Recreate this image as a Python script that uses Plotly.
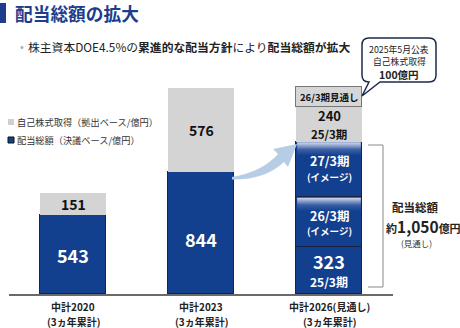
import plotly.graph_objects as go

# ---- data ----
positions = [0, 1, 2]
cat_line1 = ["中計2020", "中計2023", "中計2026(見通し)"]
cat_line2 = ["(3ヵ年累計)", "(3ヵ年累計)", "(3ヵ年累計)"]
dividends = [543, 844, 323]          # 配当総額（決議ベース/億円）
div_26_image = 345                   # 26/3期（イメージ）
div_27_image = 382                   # 27/3期（イメージ）
buyback = [151, 576, 240]            # 自己株式取得（拠出ベース/億円）
buyback_fcst_box = 140               # 26/3期見通し (display box height)

BLUE = "#12408f"
NAVY = "#1d3d8d"
GRAY = "#d4d4d4"
FONT = "Noto Sans CJK JP"

W, H = 460, 328
ML, MR, MT, MB = 9, 67, 80, 34
PW, PH = W - ML - MR, H - MT - MB
YMAX = 1476


def PX(x):
    return (x - ML) / PW


def PY(y):
    return (H - MB - y) / PH


fig = go.Figure()
bw = 0.51
fig.add_bar(x=positions, y=dividends, width=bw, marker=dict(color=BLUE, line=dict(color="#1a2346", width=1)))
fig.add_bar(x=[2], y=[div_26_image], width=bw, marker=dict(color=BLUE, line=dict(color="#1a2346", width=1)))
fig.add_bar(x=[2], y=[div_27_image], width=bw, marker=dict(color=BLUE, line=dict(color="#1a2346", width=1)))
fig.add_bar(x=positions, y=buyback, width=bw, marker=dict(color=GRAY, line=dict(color=GRAY, width=0)))
fig.add_bar(x=[2], y=[buyback_fcst_box], width=bw, marker=dict(color="#d6d6d6", line=dict(color="#777777", width=1)))

# gradient highlight at top of image segments
grad_h = 95
seg_bases = [dividends[2], dividends[2] + div_26_image]
seg_tops = [dividends[2] + div_26_image, dividends[2] + div_26_image + div_27_image]
for b, t in zip(seg_bases, seg_tops):
    lo = t - grad_h
    xi = 2 - bw / 2 + 0.006
    xa = 2 + bw / 2 - 0.006
    fig.add_scatter(x=[xi, xa, xa, xi, xi], y=[lo, lo, t - 4, t - 4, lo], mode="lines",
                    line=dict(width=0), fill="toself",
                    fillgradient=dict(type="vertical", start=lo, stop=t - 4,
                                      colorscale=[[0, BLUE], [0.45, "#3b5fa6"], [1, "#d4dbee"]]),
                    hoverinfo="skip")

ann = []


def A(text, x, y, size, color="#111", bold=False, xref="x", yref="y", xanchor="center", yanchor="middle"):
    ann.append(dict(text=(f"<b>{text}</b>" if bold else text), x=x, y=y, xref=xref, yref=yref,
                    showarrow=False, xanchor=xanchor, yanchor=yanchor, borderpad=0,
                    font=dict(family=FONT, size=size, color=color)))


# values in bars
A(str(buyback[0]), 0, dividends[0] + buyback[0] / 2, 14, bold=True)
A(str(dividends[0]), 0, dividends[0] / 2, 18, "white", True)
A(str(buyback[1]), 1, dividends[1] + buyback[1] / 2, 14, bold=True)
A(str(dividends[1]), 1, dividends[1] * 0.45, 18, "white", True)
mid = dividends[2] / 2
ann.append(dict(text="<b>323</b>", x=2, y=mid, yshift=10, xref="x", yref="y", showarrow=False,
                font=dict(family=FONT, size=18, color="white")))
ann.append(dict(text="<b>25/3期</b>", x=2, y=mid, yshift=-11, xref="x", yref="y", showarrow=False,
                font=dict(family=FONT, size=12, color="white")))
mid = dividends[2] + div_26_image / 2
ann.append(dict(text="<b>26/3期</b>", x=2, y=mid, yshift=7, xref="x", yref="y", showarrow=False,
                font=dict(family=FONT, size=12.5, color="white")))
ann.append(dict(text="<b>(イメージ)</b>", x=2, y=mid, yshift=-9, xref="x", yref="y", showarrow=False,
                font=dict(family=FONT, size=9.5, color="white")))
mid = dividends[2] + div_26_image + div_27_image / 2
ann.append(dict(text="<b>27/3期</b>", x=2, y=mid, yshift=9, xref="x", yref="y", showarrow=False,
                font=dict(family=FONT, size=12.5, color="white")))
ann.append(dict(text="<b>(イメージ)</b>", x=2, y=mid, yshift=-8, xref="x", yref="y", showarrow=False,
                font=dict(family=FONT, size=9.5, color="white")))
tot_div = dividends[2] + div_26_image + div_27_image
mid = tot_div + buyback[2] / 2
ann.append(dict(text="<b>240</b>", x=2, y=mid, yshift=9, xref="x", yref="y", showarrow=False,
                font=dict(family=FONT, size=13, color="#111")))
ann.append(dict(text="<b>25/3期</b>", x=2, y=mid, yshift=-10, xref="x", yref="y", showarrow=False,
                font=dict(family=FONT, size=11.5, color="#111")))
A("26/3期見通し", 2, tot_div + buyback[2] + buyback_fcst_box / 2, 9.5, bold=True)

# category labels
for p, l1, l2 in zip(positions, cat_line1, cat_line2):
    A(l1, p, PY(306.5), 10, "#222", True, yref="paper")
    A(l2, p, PY(321), 10, "#222", True, yref="paper")

# title & subtitle
A("配当総額の拡大", PX(14), PY(13), 17.7, NAVY, True, xref="paper", yref="paper", xanchor="left")
A("•", PX(19), PY(46), 11, "#9fb0cc", xref="paper", yref="paper", xanchor="left")
A("株主資本DOE4.5%の<b>累進的な配当方針</b>により<b>配当総額が拡大</b>", PX(27), PY(46), 11.8, "#222",
  xref="paper", yref="paper", xanchor="left")

# legend
A("自己株式取得（拠出ベース/億円）", PX(16), PY(122), 9.2, "#333", xref="paper", yref="paper", xanchor="left")
A("配当総額（決議ベース/億円）", PX(16), PY(140), 9.2, "#333", xref="paper", yref="paper", xanchor="left")

# right side note
A("配当総額", PX(415), PY(207), 11.5, "#222", True, xref="paper", yref="paper")
A("約<span style='font-size:15.5px'>1,050</span>億円", PX(423), PY(226), 11, "#222", True,
  xref="paper", yref="paper")
A("(見通し)", PX(416), PY(242.5), 8.5, "#333", xref="paper", yref="paper")

# callout text
A("2025年5月公表", PX(399), PY(49), 8.8, "#222", xref="paper", yref="paper")
A("自己株式取得", PX(399), PY(61), 8.8, "#222", xref="paper", yref="paper")
A("100億円", PX(399), PY(74), 10.5, "#222", True, xref="paper", yref="paper")


def path(pts_cmds):
    out = []
    for c in pts_cmds:
        if isinstance(c, str):
            out.append(c)
        else:
            out.append(f"{PX(c[0]):.5f},{PY(c[1]):.5f}")
    return " ".join(out)


shapes = []
# title bar
shapes.append(dict(type="rect", xref="paper", yref="paper", x0=PX(0), x1=PX(6), y0=PY(23), y1=PY(3),
                   fillcolor=NAVY, line=dict(width=0)))
# legend squares
shapes.append(dict(type="rect", xref="paper", yref="paper", x0=PX(8), x1=PX(14), y0=PY(125), y1=PY(119),
                   fillcolor="#cfcfcf", line=dict(width=0)))
shapes.append(dict(type="rect", xref="paper", yref="paper", x0=PX(8), x1=PX(14), y0=PY(143), y1=PY(137),
                   fillcolor=BLUE, line=dict(color="#111", width=1)))
# bracket
shapes.append(dict(type="path", xref="paper", yref="paper",
                   path=path(["M", (368, 145), "L", (383, 145), "L", (383, 287), "L", (368, 287)]),
                   line=dict(color="#8a8a8a", width=1)))
# callout
r = 7
x0, x1, y0, y1 = 362, 436, 38, 82
shapes.append(dict(type="path", xref="paper", yref="paper",
                   path=path(["M", (x0 + r, y0), "L", (x1 - r, y0), "Q", (x1, y0), (x1, y0 + r),
                              "L", (x1, y1 - r), "Q", (x1, y1), (x1 - r, y1),
                              "L", (380, y1), "L", (362, 96), "L", (369, y1),
                              "L", (x0 + r, y1), "Q", (x0, y1), (x0, y1 - r),
                              "L", (x0, y0 + r), "Q", (x0, y0), (x0 + r, y0), "Z"]),
                   fillcolor="white", line=dict(color="#1b2a4e", width=1.5)))
# curved arrow
shapes.append(dict(type="path", xref="paper", yref="paper",
                   path=path(["M", (232, 177), "Q", (262, 172), (278, 154),
                              "L", (273, 149), "L", (297, 144), "L", (288, 167), "L", (284, 162),
                              "Q", (265, 180), (232, 179.5), "Z"]),
                   fillcolor="#b7cde6", line=dict(width=0)))

fig.update_layout(
    width=W, height=H, margin=dict(l=ML, r=MR, t=MT, b=MB, autoexpand=False),
    barmode="stack", showlegend=False, bargap=0,
    plot_bgcolor="white", paper_bgcolor="white",
    xaxis=dict(range=[-0.5, 2.5], showticklabels=False, ticks="", showgrid=False, zeroline=False,
               showline=True, linecolor="#6a6a6a", linewidth=1.5, fixedrange=True),
    yaxis=dict(range=[0, YMAX], visible=False, fixedrange=True),
    annotations=ann, shapes=shapes,
    font=dict(family=FONT),
)
fig.write_html("out.html", config={"displayModeBar": False})
